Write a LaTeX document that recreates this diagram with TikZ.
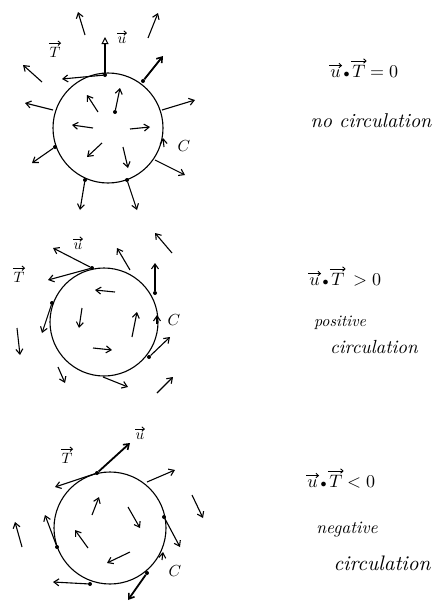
\documentclass[tikz,border=0pt]{standalone}
\usepackage{graphicx}
\usetikzlibrary{arrows.meta}
\begin{document}
\begin{tikzpicture}[x=1pt,y=-1pt,
  vec/.style={line width=1.1pt,-{Straight Barb[length=5pt,width=7pt,line width=1.1pt]}},
  bold/.style={line width=1.8pt,-{Straight Barb[length=5pt,width=7pt,line width=1.6pt]}},
  uvec/.style={line width=1.1pt,-{Triangle[open,length=7pt,width=7pt,line width=1pt]}},
  acc/.style={line width=0.9pt,-{Straight Barb[length=2.5pt,width=4.5pt,line width=0.9pt]}},
  curve/.style={draw,circle,line width=1.1pt,inner sep=0pt},
  pt/.style={fill,circle,inner sep=0pt,minimum size=4pt},
  lbl/.style={inner xsep=0.5pt,inner ysep=0.5pt},
  eqp/.style={inner xsep=1.2pt,inner ysep=0.5pt,anchor=base west},
  txt/.style={inner sep=1pt,font=\itshape}]
\useasboundingbox (0,0) rectangle (443,605);
\fill[white] (0,0) rectangle (443,605);

% ---------- diagram 1 : no circulation ----------
\node[curve,minimum size=110pt] (c1) at (108,128) {};
\node[pt] (p1a) at (105,75) {};
\node[pt] (p1b) at (143,81) {};
\node[pt] (p1c) at (55,147) {};
\node[pt] (p1d) at (85,180) {};
\node[pt] (p1e) at (127,180) {};
\node[pt] (p1f) at (115,112) {};
\coordinate (u1) at (105,37);
\coordinate (t1) at (62,79);
\draw[uvec] (p1a) -- (u1);
\draw[vec] (p1a) -- (t1);
\node[lbl] (lu1) at (122,40) {\scalebox{1.5}{$u$}};
\draw[acc] ([yshift=3pt]lu1.north west) -- ([yshift=3pt]lu1.north east);
\node[lbl] (lt1) at (55,52) {\scalebox{1.5}{$T$}};
\draw[acc] ([yshift=3pt]lt1.north west) -- ([yshift=3pt]lt1.north east);
\draw[bold] (p1b) -- (163,56);
\draw[vec] (p1c) -- (32,163);
\draw[vec] (p1d) -- (80,210);
\draw[vec] (p1e) -- (137,210);
\draw[vec] (p1f) -- (120,88);
\draw[vec] (85,35) -- (78,12);
\draw[vec] (148,38) -- (158,13);
\draw[vec] (42,82) -- (23,65);
\draw[vec] (53,110) -- (25,103);
\draw[vec] (162,110) -- (195,100);
\draw[vec] (155,160) -- (185,175);
\draw[vec] (98,112) -- (87,95);
\draw[vec] (93,128) -- (72,125);
\draw[vec] (130,129) -- (150,127);
\draw[vec] (102,143) -- (87,157);
\draw[vec] (123,147) -- (128,168);
\draw[vec] (164,147) -- (163,138);
\node[lbl] (C1) at (184,146) {\scalebox{1.6}{$C$}};

\node[eqp] (e1u) at (329,77) {\scalebox{1.8}{$u$}};
\node[eqp] (e1d) at (e1u.base east) {\scalebox{1.2}{$\bullet$}};
\node[eqp] (e1T) at (e1d.base east) {\scalebox{1.8}{$T$}};
\node[eqp] (e1r) at ([xshift=2pt]e1T.base east) {\scalebox{1.8}{$=0$}};
\draw[acc] ([yshift=3pt]e1u.north west) -- ([yshift=3pt]e1u.north east);
\draw[acc] ([yshift=3pt]e1T.north west) -- ([yshift=3pt]e1T.north east);
\node[txt] (n1) at (371,121) {\scalebox{2}{no circulation}};

% ---------- diagram 2 : positive circulation ----------
\node[curve,minimum size=108pt] (c2) at (104,322) {};
\node[pt] (p2a) at (92,268) {};
\node[pt] (p2b) at (155,293) {};
\node[pt] (p2c) at (149,357) {};
\node[pt] (p2d) at (52,303) {};
\coordinate (u2) at (53,248);
\coordinate (t2) at (48,280);
\draw[vec] (p2a) -- (u2);
\draw[vec] (p2a) -- (t2);
\node[lbl] (lu2) at (78,246) {\scalebox{1.5}{$u$}};
\draw[acc] ([yshift=3pt]lu2.north west) -- ([yshift=3pt]lu2.north east);
\node[lbl] (lt2) at (19,277) {\scalebox{1.5}{$T$}};
\draw[acc] ([yshift=3pt]lt2.north west) -- ([yshift=3pt]lt2.north east);
\draw[vec] (p2b) -- (155,263);
\draw[vec] (p2c) -- (170,337);
\draw[vec] (p2d) -- (42,333);
\draw[vec] (130,270) -- (117,248);
\draw[vec] (172,253) -- (155,233);
\draw[vec] (157,393) -- (173,377);
\draw[vec] (103,377) -- (128,387);
\draw[vec] (58,367) -- (65,383);
\draw[vec] (17,328) -- (20,355);
\draw[vec] (115,292) -- (95,290);
\draw[vec] (82,308) -- (79,328);
\draw[vec] (132,337) -- (137,312);
\draw[vec] (93,348) -- (112,350);
\draw[vec] (157,324) -- (157,315);
\node[lbl] (C2) at (174,320) {\scalebox{1.6}{$C$}};

\node[eqp] (e2u) at (308,285) {\scalebox{1.8}{$u$}};
\node[eqp] (e2d) at (e2u.base east) {\scalebox{1.2}{$\bullet$}};
\node[eqp] (e2T) at (e2d.base east) {\scalebox{1.8}{$T$}};
\node[eqp] (e2r) at ([xshift=6pt]e2T.base east) {\scalebox{1.8}{$>0$}};
\draw[acc] ([yshift=3pt]e2u.north west) -- ([yshift=3pt]e2u.north east);
\draw[acc] ([yshift=3pt]e2T.north west) -- ([yshift=3pt]e2T.north east);
\node[txt] (n2a) at (340,323) {\scalebox{1.6}{positive}};
\node[txt] (n2b) at (374,347) {\scalebox{1.9}{circulation}};

% ---------- diagram 3 : negative circulation ----------
\node[curve,minimum size=112pt] (c3) at (110,528) {};
\node[pt] (p3a) at (97,473) {};
\node[pt] (p3b) at (164,517) {};
\node[pt] (p3c) at (147,573) {};
\node[pt] (p3d) at (90,584) {};
\node[pt] (p3e) at (57,547) {};
\coordinate (u3) at (130,443);
\coordinate (t3) at (55,487);
\draw[bold] (p3a) -- (u3);
\draw[vec] (p3a) -- (t3);
\node[lbl] (lu3) at (140,436) {\scalebox{1.5}{$u$}};
\draw[acc] ([yshift=3pt]lu3.north west) -- ([yshift=3pt]lu3.north east);
\node[lbl] (lt3) at (67,458) {\scalebox{1.5}{$T$}};
\draw[acc] ([yshift=3pt]lt3.north west) -- ([yshift=3pt]lt3.north east);
\draw[vec] (p3b) -- (180,547);
\draw[bold] (p3c) -- (128,600);
\draw[vec] (p3d) -- (53,582);
\draw[vec] (p3e) -- (45,515);
\draw[vec] (147,482) -- (175,470);
\draw[vec] (192,495) -- (203,518);
\draw[vec] (22,547) -- (15,522);
\draw[vec] (92,515) -- (99,497);
\draw[vec] (128,507) -- (140,528);
\draw[vec] (88,548) -- (75,530);
\draw[vec] (130,552) -- (107,563);
\draw[vec] (162,560) -- (163,552);
\node[lbl] (C3) at (175,571) {\scalebox{1.6}{$C$}};

\node[eqp] (e3u) at (306,487) {\scalebox{1.8}{$u$}};
\node[eqp] (e3d) at (e3u.base east) {\scalebox{1.2}{$\bullet$}};
\node[eqp] (e3T) at (e3d.base east) {\scalebox{1.8}{$T$}};
\node[eqp] (e3r) at ([xshift=2pt]e3T.base east) {\scalebox{1.8}{$<0$}};
\draw[acc] ([yshift=3pt]e3u.north west) -- ([yshift=3pt]e3u.north east);
\draw[acc] ([yshift=3pt]e3T.north west) -- ([yshift=3pt]e3T.north east);
\node[txt] (n3a) at (347,530) {\scalebox{1.75}{negative}};
\node[txt] (n3b) at (382,563) {\scalebox{2.1}{circulation}};
\end{tikzpicture}
\end{document}
